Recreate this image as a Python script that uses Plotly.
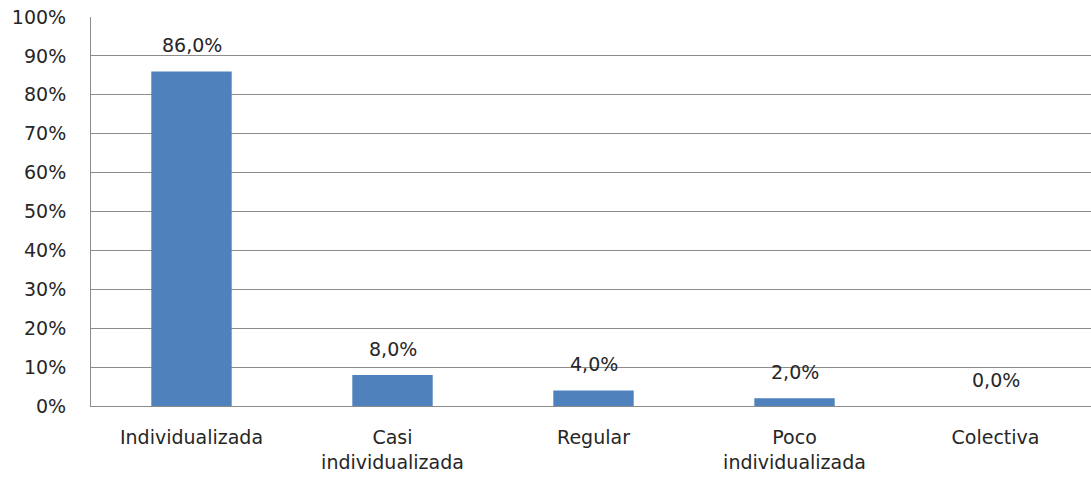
import plotly.graph_objects as go

categories = ["Individualizada", "Casi<br>individualizada", "Regular", "Poco<br>individualizada", "Colectiva"]
values = [86.0, 8.0, 4.0, 2.0, 0.0]
value_labels = ["86,0%", "8,0%", "4,0%", "2,0%", "0,0%"]
tick_vals = [0, 10, 20, 30, 40, 50, 60, 70, 80, 90, 100]
tick_text = [f"{v}%" for v in tick_vals]

FONT = "DejaVu Sans"
SIZE = 19
TXT = "#262626"

fig = go.Figure()
fig.add_trace(go.Bar(x=categories, y=values, marker=dict(color="#4F81BD", line=dict(width=0)),
                     hoverinfo="skip"))

for c, v, t in zip(categories, values, value_labels):
    fig.add_annotation(x=c, y=v, text=t, showarrow=False, yanchor="bottom", yshift=13,
                       font=dict(family=FONT, size=SIZE, color=TXT))

fig.update_layout(
    width=1091, height=484,
    margin=dict(l=91, r=0, t=17, b=78),
    paper_bgcolor="white", plot_bgcolor="white",
    bargap=0.6, showlegend=False,
    font=dict(family=FONT, size=SIZE, color=TXT),
)
fig.update_yaxes(range=[0, 100], tickvals=tick_vals, ticktext=tick_text,
                 showgrid=True, gridcolor="#8C8C8C", gridwidth=1,
                 showline=True, linecolor="#8C8C8C", linewidth=1,
                 zeroline=False, ticks="", ticklabelstandoff=20, automargin=False,
                 tickfont=dict(family=FONT, size=SIZE, color=TXT))
fig.update_xaxes(showline=True, linecolor="#8C8C8C", linewidth=1, ticks="",
                 range=[-0.5, 4.475],
                 ticklabelstandoff=14, automargin=False,
                 tickfont=dict(family=FONT, size=SIZE, color=TXT))

fig.write_html("out.html", config={"displayModeBar": False},
               post_script="document.body.style.margin='0px';")
